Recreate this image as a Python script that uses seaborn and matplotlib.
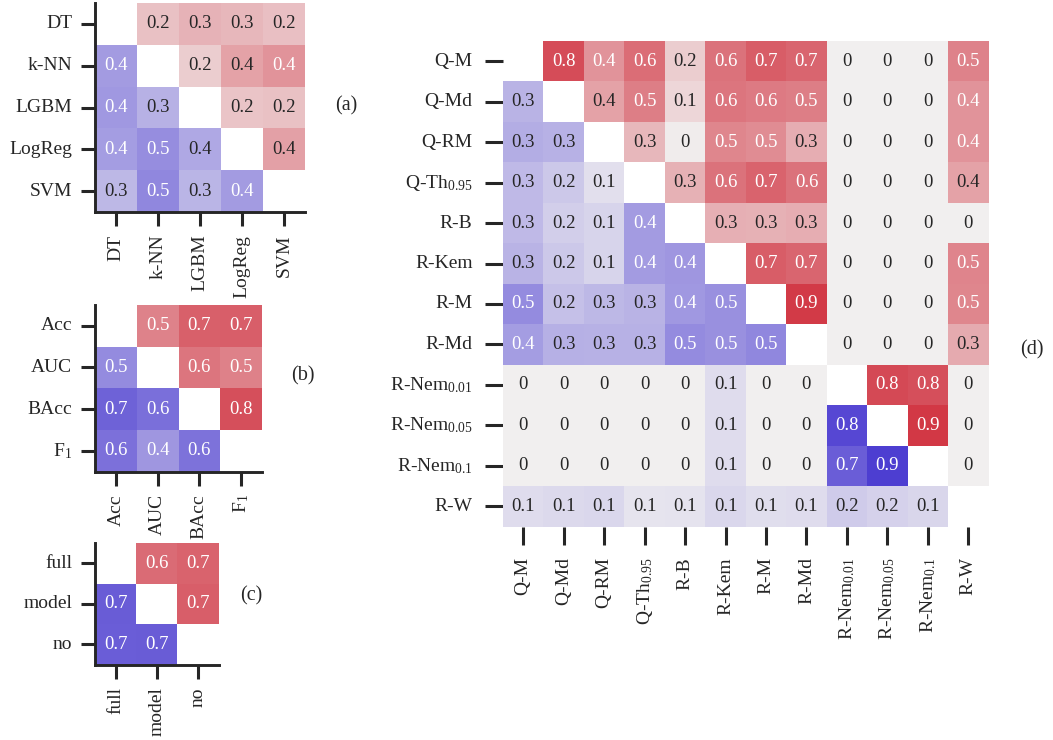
import numpy as np
import seaborn as sns
import matplotlib.pyplot as plt
from matplotlib.colors import LinearSegmentedColormap

nan = np.nan

# Panel (a): classifiers (lower triangle stored negative -> blue)
clf_labels = ["DT", "k-NN", "LGBM", "LogReg", "SVM"]
clf_corr = [
    [nan, 0.22, 0.29, 0.27, 0.23],
    [-0.42, nan, 0.17, 0.37, 0.44],
    [-0.43, -0.31, nan, 0.21, 0.22],
    [-0.41, -0.49, -0.355, nan, 0.38],
    [-0.28, -0.52, -0.29, -0.42, nan],
]

# Panel (b): metrics
metric_labels = ["Acc", "AUC", "BAcc", "F$_1$"]
metric_corr = [
    [nan, 0.52, 0.68, 0.69],
    [-0.50, nan, 0.58, 0.53],
    [-0.70, -0.64, nan, 0.76],
    [-0.63, -0.44, -0.62, nan],
]

# Panel (c): retraining
retrain_labels = ["full", "model", "no"]
retrain_corr = [
    [nan, 0.63, 0.67],
    [-0.73, nan, 0.69],
    [-0.72, -0.73, nan],
]

# Panel (d): detectors
det_labels = ["Q-M", "Q-Md", "Q-RM", "Q-Th$_{0.95}$", "R-B", "R-Kem", "R-M", "R-Md",
              "R-Nem$_{0.01}$", "R-Nem$_{0.05}$", "R-Nem$_{0.1}$", "R-W"]
det_corr = [
    [nan, 0.78, 0.44, 0.62, 0.17, 0.60, 0.70, 0.66, 0, 0, 0, 0.52],
    [-0.30, nan, 0.37, 0.54, 0.12, 0.58, 0.56, 0.54, 0, 0, 0, 0.44],
    [-0.33, -0.31, nan, 0.27, 0.02, 0.50, 0.47, 0.32, 0, 0, 0, 0.44],
    [-0.27, -0.20, -0.08, nan, 0.30, 0.60, 0.67, 0.60, 0, 0, 0, 0.37],
    [-0.27, -0.17, -0.14, -0.42, nan, 0.31, 0.30, 0.32, 0, 0, 0, 0],
    [-0.30, -0.20, -0.14, -0.42, -0.44, nan, 0.70, 0.66, 0, 0, 0, 0.51],
    [-0.50, -0.24, -0.28, -0.30, -0.43, -0.47, nan, 0.86, 0, 0, 0, 0.50],
    [-0.41, -0.32, -0.31, -0.31, -0.50, -0.47, -0.52, nan, 0, 0, 0, 0.33],
    [0, 0, 0, 0, 0, -0.10, 0, 0, nan, 0.79, 0.76, 0],
    [0, 0, 0, 0, 0, -0.10, 0, 0, -0.83, nan, 0.87, 0],
    [0, 0, 0, 0, 0, -0.10, 0, 0, -0.72, -0.88, nan, 0],
    [-0.10, -0.11, -0.12, -0.06, -0.07, -0.12, -0.09, -0.10, -0.18, -0.15, -0.13, nan],
]

sns.set_style("ticks")
plt.rcParams["font.family"] = ["Liberation Serif", "DejaVu Serif"]
plt.rcParams["mathtext.default"] = "regular"

cmap = LinearSegmentedColormap.from_list("bgr", ["#3726cd", "#f1f0f0", "#cd1e2d"])

W, H = 1053, 740
fig = plt.figure(figsize=(W / 100, H / 100), dpi=100)


def add_panel(left, top, right, bottom):
    return fig.add_axes([left / W, 1 - bottom / H, (right - left) / W, (bottom - top) / H])


def annot_labels(mat):
    arr = np.array(mat, dtype=float)
    return np.array([["" if np.isnan(v) else f"{round(abs(v), 1):g}" for v in row] for row in arr])


def draw(ax, mat, labels, spines=True, tick_len=10, tick_pad=6.3):
    arr = np.array(mat, dtype=float)
    sns.heatmap(arr, ax=ax, cmap=cmap, vmin=-1, vmax=1, cbar=False,
                annot=annot_labels(mat), fmt="", annot_kws={"fontsize": 13.5},
                xticklabels=labels, yticklabels=labels)
    ax.tick_params(length=tick_len, width=2.2, pad=tick_pad, labelsize=14,
                   color="#262626", labelcolor="#262626")
    ax.tick_params(axis="x", labelrotation=90)
    ax.tick_params(axis="y", labelrotation=0)
    if spines:
        for side in ["left", "bottom"]:
            ax.spines[side].set_visible(True)
            ax.spines[side].set_linewidth(2.1)
            ax.spines[side].set_color("#262626")


ax_a = add_panel(95, 3, 305, 212)
draw(ax_a, clf_corr, clf_labels)
ax_b = add_panel(95, 305, 262, 471.5)
draw(ax_b, metric_corr, metric_labels)
ax_c = add_panel(95, 543, 218.5, 664.5)
draw(ax_c, retrain_corr, retrain_labels)
ax_d = add_panel(503, 41, 988.5, 526.5)
draw(ax_d, det_corr, det_labels, spines=False, tick_len=13.3, tick_pad=8.6)

# panel letters
for x, y, s in [(346, 106, "(a)"), (303, 376, "(b)"), (251, 596, "(c)"), (1032, 350, "(d)")]:
    fig.text(x / W, 1 - y / H, s, fontsize=14.5, ha="center", va="center", color="#262626")

fig.savefig("out.png", dpi=100)
